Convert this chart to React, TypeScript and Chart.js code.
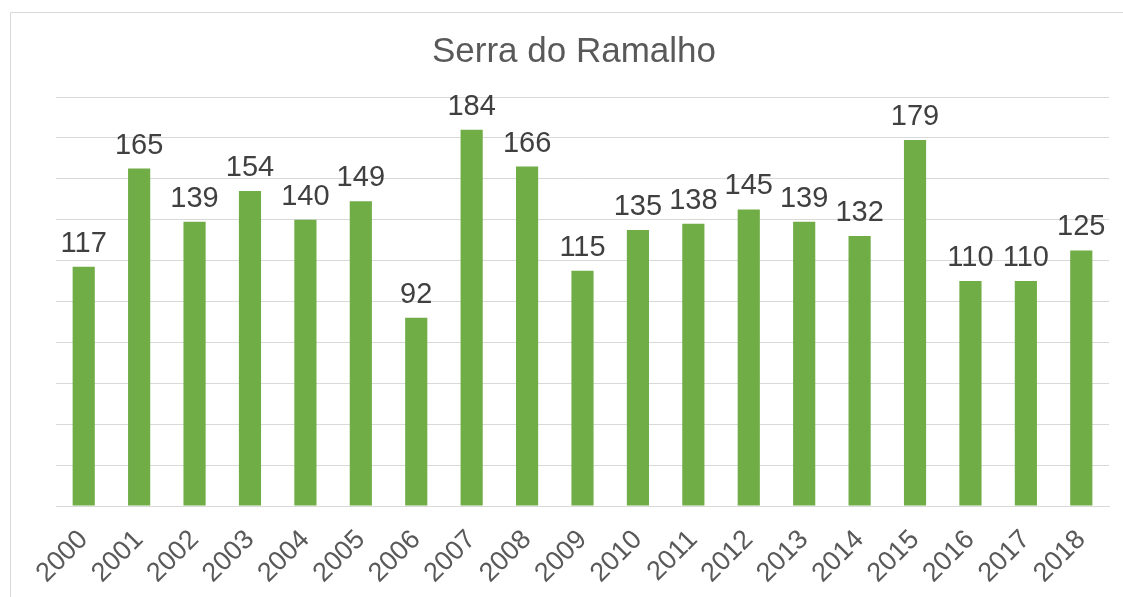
import React, { useEffect, useRef } from 'react';
import { Chart, registerables } from 'chart.js';

Chart.register(...registerables);

const categories = ['2000', '2001', '2002', '2003', '2004', '2005', '2006', '2007', '2008', '2009', '2010', '2011', '2012', '2013', '2014', '2015', '2016', '2017', '2018'];
const values = [117, 165, 139, 154, 140, 149, 92, 184, 166, 115, 135, 138, 145, 139, 132, 179, 110, 110, 125];
const yMin = 0;
const yMax = 200;
const yStep = 20;
const chartTitle = 'Serra do Ramalho';

const FONT = '"Liberation Sans", Arial, sans-serif';

const overlay = {
  id: 'overlay',
  beforeDraw(chart: any) {
    const ctx = chart.ctx;
    ctx.save();
    ctx.fillStyle = '#ffffff';
    ctx.fillRect(0, 0, chart.width, chart.height);
    ctx.strokeStyle = '#d9d9d9';
    ctx.lineWidth = 1;
    ctx.beginPath();
    ctx.moveTo(10.5, chart.height);
    ctx.lineTo(10.5, 12.5);
    ctx.lineTo(chart.width, 12.5);
    ctx.stroke();
    ctx.restore();
  },
  afterDatasetsDraw(chart: any) {
    const ctx = chart.ctx;
    ctx.save();
    ctx.font = `29px ${FONT}`;
    ctx.fillStyle = '#404040';
    ctx.textAlign = 'center';
    ctx.textBaseline = 'alphabetic';
    const meta = chart.getDatasetMeta(0);
    meta.data.forEach((el: any, i: number) => {
      ctx.fillText(String(values[i]), el.x, el.y - 15);
    });
    ctx.font = `35px ${FONT}`;
    ctx.fillStyle = '#595959';
    ctx.fillText(chartTitle, 574, 62);
    ctx.restore();
  },
};

export default function App() {
  const ref = useRef<HTMLCanvasElement>(null);
  useEffect(() => {
    if (!ref.current) return;
    const chart = new Chart(ref.current, {
      type: 'bar',
      data: {
        labels: categories,
        datasets: [
          {
            data: values,
            backgroundColor: '#70AD47',
            barPercentage: 0.4,
            categoryPercentage: 1,
          },
        ],
      },
      options: {
        responsive: false,
        animation: false,
        layout: { padding: { left: 56, right: 14, top: 97, bottom: 0 } },
        plugins: {
          legend: { display: false },
          title: { display: false },
          tooltip: { enabled: false },
        },
        scales: {
          x: {
            grid: { display: false, drawTicks: false },
            border: { display: true, color: '#d9d9d9' },
            ticks: {
              autoSkip: false,
              maxRotation: 45,
              minRotation: 45,
              padding: 18,
              color: '#595959',
              font: { family: FONT, size: 27 },
            },
            afterFit: (s: any) => {
              s.height = 91;
              s.paddingLeft = 0;
              s.paddingRight = 0;
            },
          },
          y: {
            min: yMin,
            max: yMax,
            ticks: { display: false, stepSize: yStep },
            grid: { color: '#d9d9d9', drawTicks: false },
            border: { display: false },
            afterFit: (s: any) => {
              s.width = 0;
            },
          },
        },
      },
      plugins: [overlay],
    });
    return () => chart.destroy();
  }, []);
  return (
    <div style={{ position: 'absolute', left: 0, top: 0, width: 1123, height: 597 }}>
      <canvas ref={ref} width={1123} height={597} style={{ display: 'block' }} />
    </div>
  );
}
